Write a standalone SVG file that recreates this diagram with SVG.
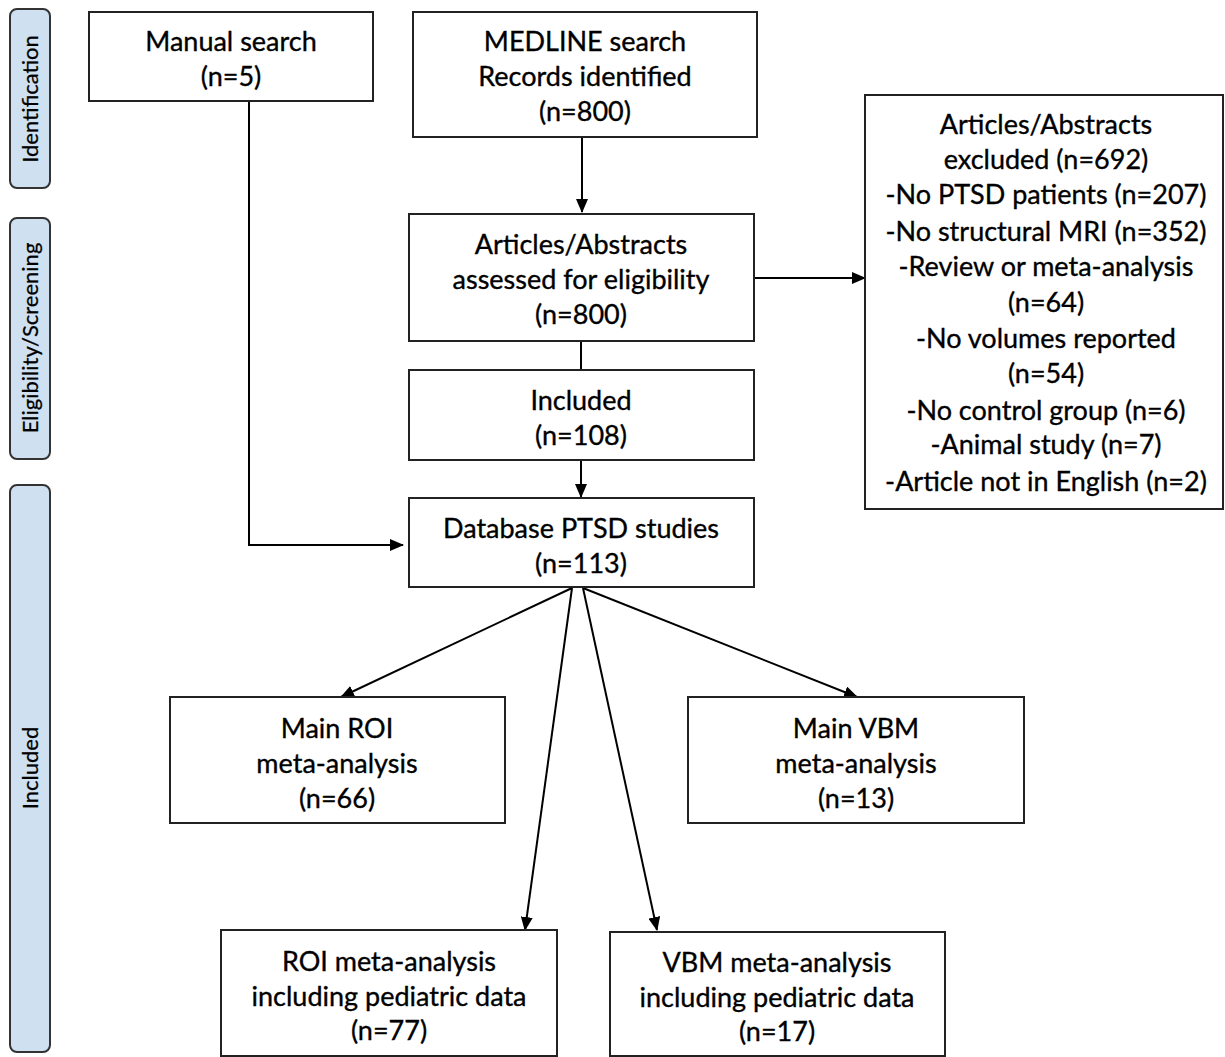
<svg xmlns="http://www.w3.org/2000/svg" width="1225" height="1057" viewBox="0 0 1225 1057">
<defs>
<style>
.box{fill:#fff;stroke:#222;stroke-width:2}
.side{fill:#cfe0f1;stroke:#333;stroke-width:2}
.t{font-family:Lato,"Liberation Sans",sans-serif;font-size:27px;fill:#000;stroke:#000;stroke-width:0.35;text-anchor:middle}
.s{font-family:Lato,"Liberation Sans",sans-serif;font-size:22px;fill:#000;stroke:#000;stroke-width:0.25;text-anchor:middle}
.c{fill:none;stroke:#000;stroke-width:2}
</style>
<marker id="ah" viewBox="0 0 14 12" refX="13" refY="6" markerWidth="14" markerHeight="12" markerUnits="userSpaceOnUse" orient="auto">
<path d="M0,0 L14,6 L0,12 Z" fill="#000"/>
</marker>
</defs>
<rect width="1225" height="1057" fill="#fff"/>

<g id="side-identification">
<rect class="side" x="10" y="9" width="40" height="179" rx="7"/>
<text class="s" transform="translate(38,99) rotate(-90)">Identification</text>
</g>
<g id="side-eligibility">
<rect class="side" x="10" y="218" width="40" height="241" rx="7"/>
<text class="s" transform="translate(38,338) rotate(-90)">Eligibility/Screening</text>
</g>
<g id="side-included">
<rect class="side" x="10" y="485" width="40" height="567" rx="7"/>
<text class="s" transform="translate(38,768) rotate(-90)">Included</text>
</g>

<g id="connectors">
<line class="c" x1="582" y1="137" x2="582" y2="212" marker-end="url(#ah)"/>
<polyline class="c" points="249,101 249,545 403,545" marker-end="url(#ah)"/>
<line class="c" x1="754" y1="278" x2="865" y2="278" marker-end="url(#ah)"/>
<line class="c" x1="581" y1="341" x2="581" y2="370"/>
<line class="c" x1="581" y1="460" x2="581" y2="497" marker-end="url(#ah)"/>
<line class="c" x1="572" y1="588" x2="341" y2="697" marker-end="url(#ah)"/>
<line class="c" x1="583" y1="588" x2="857" y2="697" marker-end="url(#ah)"/>
<line class="c" x1="572" y1="588" x2="525" y2="930" marker-end="url(#ah)"/>
<line class="c" x1="583" y1="588" x2="657" y2="930" marker-end="url(#ah)"/>
</g>

<g id="manual">
<rect class="box" x="89" y="12" width="284" height="89"/>
<text class="t" x="231" y="51">Manual search</text>
<text class="t" x="231" y="86">(n=5)</text>
</g>
<g id="medline">
<rect class="box" x="413" y="12" width="344" height="125"/>
<text class="t" x="585" y="51">MEDLINE search</text>
<text class="t" x="585" y="86">Records identified</text>
<text class="t" x="585" y="121">(n=800)</text>
</g>
<g id="assessed">
<rect class="box" x="409" y="214" width="345" height="127"/>
<text class="t" x="581" y="254">Articles/Abstracts</text>
<text class="t" x="581" y="289">assessed for eligibility</text>
<text class="t" x="581" y="324">(n=800)</text>
</g>
<g id="included">
<rect class="box" x="409" y="370" width="345" height="90"/>
<text class="t" x="581" y="410">Included</text>
<text class="t" x="581" y="445">(n=108)</text>
</g>
<g id="database">
<rect class="box" x="409" y="498" width="345" height="89"/>
<text class="t" x="581" y="538">Database PTSD studies</text>
<text class="t" x="581" y="573">(n=113)</text>
</g>
<g id="excluded">
<rect class="box" x="865" y="95" width="358" height="414"/>
<text class="t" x="1046" y="134">Articles/Abstracts</text>
<text class="t" x="1046" y="169">excluded (n=692)</text>
<text class="t" x="1046" y="204">-No PTSD patients (n=207)</text>
<text class="t" x="1046" y="241">-No structural MRI (n=352)</text>
<text class="t" x="1046" y="276">-Review or meta-analysis</text>
<text class="t" x="1046" y="312">(n=64)</text>
<text class="t" x="1046" y="348">-No volumes reported</text>
<text class="t" x="1046" y="383">(n=54)</text>
<text class="t" x="1046" y="420">-No control group (n=6)</text>
<text class="t" x="1046" y="454">-Animal study (n=7)</text>
<text class="t" x="1046" y="491">-Article not in English (n=2)</text>
</g>
<g id="main-roi">
<rect class="box" x="170" y="697" width="335" height="126"/>
<text class="t" x="337" y="738">Main ROI</text>
<text class="t" x="337" y="773">meta-analysis</text>
<text class="t" x="337" y="808">(n=66)</text>
</g>
<g id="main-vbm">
<rect class="box" x="688" y="697" width="336" height="126"/>
<text class="t" x="856" y="738">Main VBM</text>
<text class="t" x="856" y="773">meta-analysis</text>
<text class="t" x="856" y="808">(n=13)</text>
</g>
<g id="roi-ped">
<rect class="box" x="221" y="930" width="336" height="126"/>
<text class="t" x="389" y="971">ROI meta-analysis</text>
<text class="t" x="389" y="1006">including pediatric data</text>
<text class="t" x="389" y="1040">(n=77)</text>
</g>
<g id="vbm-ped">
<rect class="box" x="610" y="932" width="335" height="124"/>
<text class="t" x="777" y="972">VBM meta-analysis</text>
<text class="t" x="777" y="1007">including pediatric data</text>
<text class="t" x="777" y="1041">(n=17)</text>
</g>
</svg>
